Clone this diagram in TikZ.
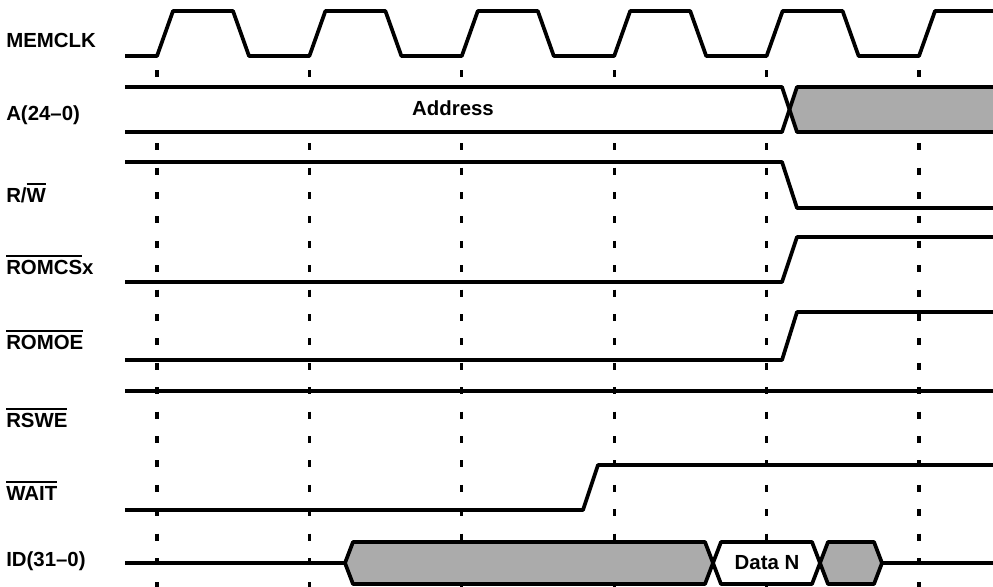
\documentclass[tikz,border=0pt]{standalone}
\usepackage{fontspec}
\setmainfont{Liberation Sans}
\usepackage{tikz}
\usetikzlibrary{positioning}
\definecolor{Shade}{HTML}{ABABAB}
\newcommand{\sigbar}[1]{\setbox0\hbox{#1}\rlap{\raisebox{\dimexpr\ht0+2.6pt}{\rule{\wd0}{1.3pt}}}\box0}

\begin{document}
\begin{tikzpicture}[x=0.75pt,y=-0.75pt,
    sig/.style={line width=2.8pt,line join=round},
    clkmark/.style={line width=2.5pt,dash pattern=on 5.2pt off 13.1pt},
    lbl/.style={anchor=west,inner sep=0pt,font=\fontsize{15.3}{18}\selectfont\bfseries}]
  \useasboundingbox (0,0) rectangle (993,586);
  \foreach \k in {0,...,5}
    \draw[clkmark] (157+152.4*\k,70) -- (157+152.4*\k,592);
  \foreach \y/\n/\t in {40/clk/MEMCLK,115/addr/A(24--0),193/rw/{R/\sigbar{W}},
    265/romcs/\sigbar{ROMCS}x,340/romoe/\sigbar{ROMOE},418/rswe/\sigbar{RSWE},
    491/wait/\sigbar{WAIT},561/id/ID(31--0)}
    \node[lbl] (\n) at (6,\y) {\t};
  % clock
  \draw[sig] (125,56) foreach \k in {0,...,4} {-- (157+152.4*\k,56) -- ++(16,-45)
    -- ++(60,0) -- ++(16,45)} -- (919,56) -- (935,11) -- (993,11);
  % address bus
  \fill[white] (125,87) -- (782,87) -- (790,110) -- (782,132) -- (125,132) -- cycle;
  \fill[Shade] (790,110) -- (797,87) -- (993,87) -- (993,132) -- (797,132) -- cycle;
  \draw[sig] (125,87) -- (782,87) -- (797,132) -- (993,132);
  \draw[sig] (125,132) -- (782,132) -- (797,87) -- (993,87);
  \node[lbl,anchor=center] (addrval) at (453,108) {Address};
  % control lines
  \draw[sig] (125,162) -- (782,162) -- (797,208) -- (993,208);
  \draw[sig] (125,282) -- (782,282) -- (797,237) -- (993,237);
  \draw[sig] (125,360) -- (782,360) -- (797,312) -- (993,312);
  \draw[sig] (125,391) -- (993,391);
  \draw[sig] (125,510) -- (583,510) -- (598,465) -- (993,465);
  % data bus
  \draw[sig] (125,563) -- (345,563);
  \filldraw[sig,fill=Shade] (345,563) -- (353,542) -- (705,542) -- (713,563)
    -- (705,584) -- (353,584) -- cycle;
  \filldraw[sig,fill=white] (713,563) -- (721,542) -- (812,542) -- (820,563)
    -- (812,584) -- (721,584) -- cycle;
  \filldraw[sig,fill=Shade] (820,563) -- (828,542) -- (874,542) -- (882,563)
    -- (874,584) -- (828,584) -- cycle;
  \draw[sig] (882,563) -- (993,563);
  \node[lbl,anchor=center] (dataval) at (767,563) {Data N};
\end{tikzpicture}
\end{document}
